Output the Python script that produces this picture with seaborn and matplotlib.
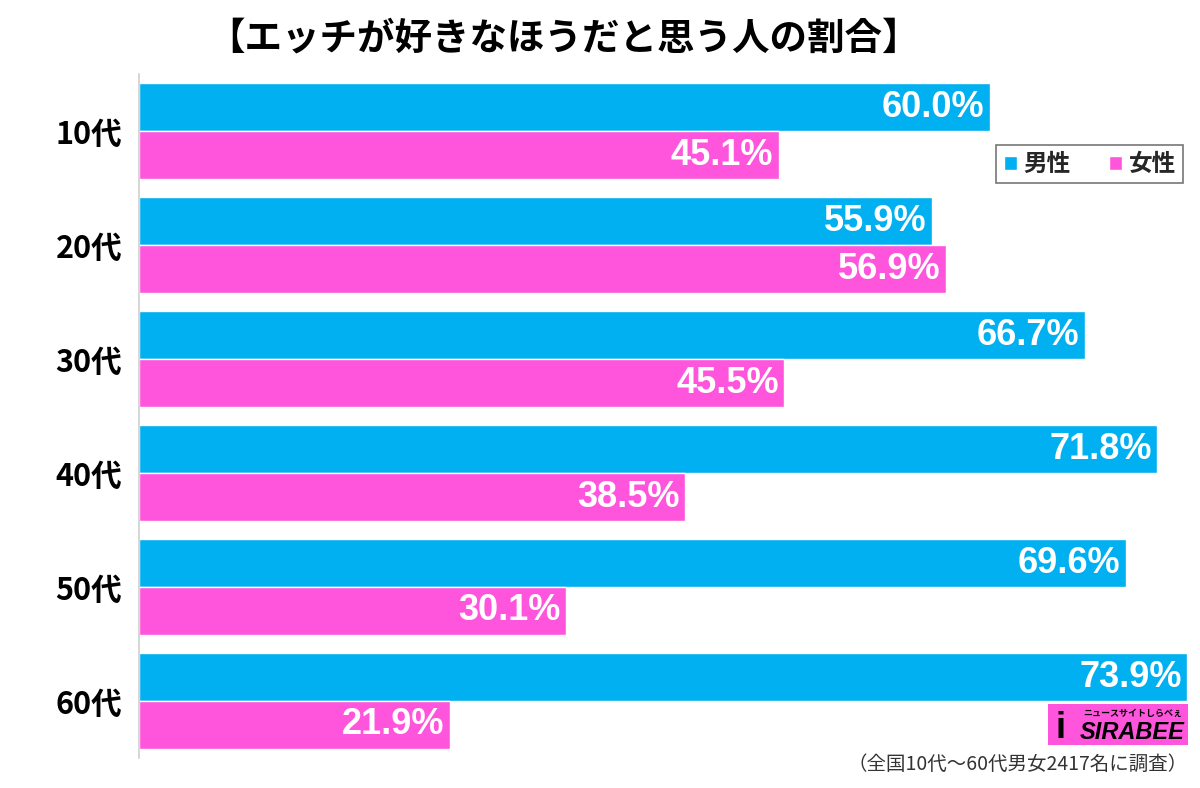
import matplotlib.pyplot as plt
import pandas as pd
import seaborn as sns
from matplotlib.patches import Rectangle

# Data
ages = ["10代", "20代", "30代", "40代", "50代", "60代"]
male = [60.0, 55.9, 66.7, 71.8, 69.6, 73.9]
female = [45.1, 56.9, 45.5, 38.5, 30.1, 21.9]
series = ["男性", "女性"]
colors = ["#00B0F0", "#FF55DD"]

title = "【エッチが好きなほうだと思う人の割合】"
note = "（全国10代～60代男女2417名に調査）"

df = pd.DataFrame({
    "age": ages * 2,
    "value": male + female,
    "sex": [series[0]] * len(ages) + [series[1]] * len(ages),
})

sns.set_theme(style="white")
plt.rcParams["font.family"] = ["Noto Sans CJK JP", "DejaVu Sans"]

fig = plt.figure(figsize=(12, 7.88), dpi=100)
ax = fig.add_axes([0.1158, 0.038, 0.8842, 0.868])

sns.barplot(data=df, y="age", x="value", hue="sex", order=ages,
            hue_order=series, palette=colors, orient="h", width=0.84,
            saturation=1, ax=ax, legend=True)

ax.set_xlim(0, 74.8)
ax.set_ylim(len(ages) - 0.5, -0.5)
ax.set_xlabel("")
ax.set_ylabel("")
ax.set_xticks([])
ax.tick_params(axis="y", length=0, pad=12)
for lbl in ax.get_yticklabels():
    lbl.set_fontsize(22)
    lbl.set_fontweight("bold")
    lbl.set_color("black")

for s in ["top", "right", "bottom"]:
    ax.spines[s].set_visible(False)
ax.spines["left"].set_color("#d0d0d0")
ax.spines["left"].set_linewidth(1.2)

# value labels inside bar ends
for cont in ax.containers:
    vals = cont.datavalues
    texts = ax.bar_label(cont, labels=[f"{v:.1f}%" for v in vals],
                         label_type="edge", padding=-4, color="white",
                         fontsize=26, fontweight="bold",
                         family=["Liberation Sans", "DejaVu Sans"])
    for t in texts:
        t.set_ha("right")

# legend
leg = ax.legend(loc="upper right", bbox_to_anchor=(0.984, 0.896), ncol=2,
                borderaxespad=0, frameon=True, fancybox=False,
                handlelength=0.55, handleheight=0.55,
                handletextpad=0.3, columnspacing=1.6, borderpad=0.3,
                prop={"size": 17, "weight": "bold"})
leg.get_frame().set_edgecolor("#555555")
leg.get_frame().set_linewidth(1.2)

fig.text(0.47, 0.952, title, ha="center", va="center", fontsize=27,
         fontweight="bold", color="black")
fig.text(0.99, 0.030, note, ha="right", va="center", fontsize=14,
         color="#333333")

# SIRABEE logo box
fig.patches.append(Rectangle((0.873, 0.054), 0.117, 0.053, transform=fig.transFigure,
                             facecolor="#FF55DD", edgecolor="none"))
fig.text(0.987, 0.071, "SIRABEE", ha="right", va="center", fontsize=17,
         fontweight="bold", fontstyle="italic", color="black",
         family=["Liberation Sans", "DejaVu Sans"])
fig.text(0.985, 0.095, "ニュースサイトしらべぇ", ha="right", va="center", fontsize=6.5,
         fontweight="bold", color="black")
fig.text(0.88, 0.075, "i", ha="left", va="center", fontsize=26,
         fontweight="bold", color="black", family=["Liberation Sans", "DejaVu Sans"])

fig.savefig("out.png", dpi=100, facecolor="white")
